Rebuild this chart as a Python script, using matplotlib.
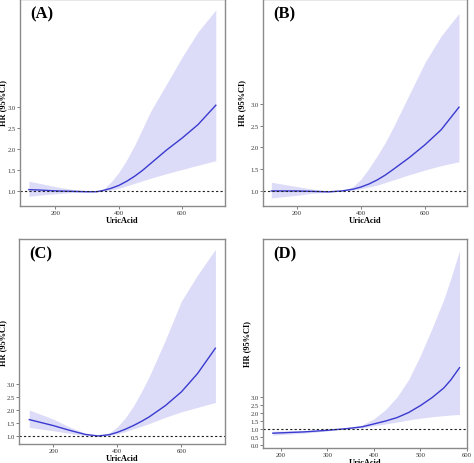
import matplotlib.pyplot as plt

plt.rcParams['font.family'] = ['Liberation Serif', 'DejaVu Serif']

# panel A
a_x = [116, 150, 200, 250, 300, 330, 350, 375, 400, 425, 450, 475, 500, 550, 600, 650, 706]
a_hr = [1.04, 1.03, 1.01, 1.00, 0.99, 0.99, 1.02, 1.07, 1.14, 1.24, 1.36, 1.50, 1.66, 1.98, 2.27, 2.59, 3.05]
a_lo = [0.88, 0.91, 0.94, 0.97, 0.98, 0.99, 1.00, 1.03, 1.07, 1.13, 1.19, 1.25, 1.31, 1.42, 1.52, 1.62, 1.73]
a_hi = [1.24, 1.19, 1.11, 1.05, 1.00, 0.99, 1.04, 1.22, 1.45, 1.75, 2.10, 2.50, 2.90, 3.55, 4.20, 4.80, 5.32]

# panel B
b_x = [120, 200, 250, 300, 340, 375, 400, 425, 450, 475, 500, 550, 600, 650, 706]
b_hr = [1.00, 1.00, 0.99, 0.98, 1.00, 1.04, 1.09, 1.16, 1.25, 1.36, 1.49, 1.76, 2.06, 2.40, 2.92]
b_lo = [0.84, 0.90, 0.95, 0.97, 1.00, 1.02, 1.05, 1.09, 1.13, 1.19, 1.25, 1.37, 1.48, 1.58, 1.67]
b_hi = [1.20, 1.10, 1.04, 0.99, 1.00, 1.10, 1.27, 1.52, 1.80, 2.10, 2.45, 3.20, 3.95, 4.55, 5.07]

# panel C
c_x = [125, 200, 250, 300, 340, 375, 400, 425, 450, 475, 500, 550, 600, 650, 706]
c_hr = [1.63, 1.40, 1.22, 1.06, 1.00, 1.05, 1.14, 1.26, 1.40, 1.56, 1.74, 2.17, 2.70, 3.40, 4.38]
c_lo = [1.33, 1.20, 1.10, 1.02, 1.00, 1.02, 1.08, 1.17, 1.27, 1.37, 1.48, 1.72, 1.93, 2.10, 2.29]
c_hi = [2.00, 1.65, 1.35, 1.10, 1.00, 1.12, 1.35, 1.70, 2.15, 2.70, 3.30, 4.70, 6.20, 7.20, 8.19]

# panel D
d_x = [183, 250, 300, 340, 375, 400, 425, 450, 475, 500, 525, 550, 565, 584]
d_hr = [0.72, 0.80, 0.90, 1.00, 1.12, 1.30, 1.48, 1.70, 2.02, 2.45, 2.95, 3.55, 4.05, 4.83]
d_lo = [0.60, 0.72, 0.86, 1.00, 1.05, 1.18, 1.30, 1.42, 1.55, 1.66, 1.75, 1.82, 1.86, 1.89]
d_hi = [0.85, 0.88, 0.94, 1.00, 1.24, 1.62, 2.20, 3.00, 4.10, 5.60, 7.30, 9.10, 10.40, 12.18]

# label, x, hr, lo, hi, box px (l, t, r, b), xlim, ylim, xticks, ylabel offset px
panels = [
    ("(A)", a_x, a_hr, a_lo, a_hi, [20, 0, 225, 207], (88, 735), (0.65, 5.58), [200, 400, 600], 12.5),
    ("(B)", b_x, b_hr, b_lo, b_hi, [263, 0, 467, 207], (94, 731), (0.655, 5.40), [200, 400, 600], 17),
    ("(C)", c_x, c_hr, c_lo, c_hi, [19, 240, 225, 445], (93, 736), (0.69, 8.59), [200, 400, 600], 12),
    ("(D)", d_x, d_hr, d_lo, d_hi, [263, 240, 467, 449], (162, 597), (-0.21, 12.9), [200, 300, 400, 500, 600], 12),
]
y_ticks = [0.0, 0.5, 1.0, 1.5, 2.0, 2.5, 3.0]

W, H = 474, 464
fig = plt.figure(figsize=(W / 100, H / 100), dpi=100)

for label, x, hr, lo, hi, box, xl, yl, xt, yoff in panels:
    l, t, r, b = box
    ax = fig.add_axes([l / W, 1 - b / H, (r - l) / W, (b - t) / H])
    ax.fill_between(x, lo, hi, color="#dcdcf8", lw=0)
    ax.plot(x, hr, color="#3a3ad0", lw=1.0)
    ax.axhline(1.0, color="#222222", lw=0.8, ls=(0, (2, 2)))
    ax.set_xlim(*xl)
    ax.set_ylim(*yl)
    ax.set_xticks(xt)
    ax.set_yticks([v for v in y_ticks if yl[0] <= v <= yl[1]])
    ax.yaxis.set_major_formatter(plt.FormatStrFormatter('%.1f'))
    ax.tick_params(labelsize=4.8, length=2, width=0.6, color="#666666",
                   labelcolor="#333333", pad=1)
    for s in ax.spines.values():
        s.set_color("#8a8a8a")
        s.set_linewidth(1.0)
    ax.set_xlabel("UricAcid", fontsize=6, fontweight="bold", labelpad=0.3)
    ax.set_ylabel("HR (95%CI)", fontsize=6, fontweight="bold")
    ax.yaxis.set_label_coords(-yoff / (r - l), 0.5)
    ax.text(0.05, 0.97, label, transform=ax.transAxes, fontsize=12,
            fontweight="bold", va="top", ha="left")

fig.savefig("out.png", dpi=100)
